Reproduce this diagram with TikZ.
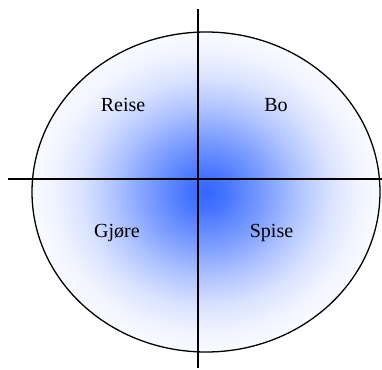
\documentclass[tikz,border=0pt]{standalone}
\usepackage{fontspec}
\setmainfont{Liberation Serif}
\definecolor{blobblue}{RGB}{51,102,255}
\pgfdeclareradialshading{blobshade}{\pgfpoint{0bp}{0bp}}{%
  color(0bp)=(blobblue);
  color(3bp)=(blobblue!90!white);
  color(8bp)=(blobblue!66!white);
  color(13bp)=(blobblue!40!white);
  color(18bp)=(blobblue!18!white);
  color(22bp)=(blobblue!7!white);
  color(25bp)=(blobblue!3!white);
  color(50bp)=(blobblue!3!white)}
\begin{document}
\begin{tikzpicture}[
    x=1pt, y=-1pt,
    axis/.style={draw, line width=1.6pt},
    rim/.style={draw, line width=1.3pt},
    label/.style={anchor=base, font=\fontsize{20}{24}\selectfont}
]
  \useasboundingbox (0,0) rectangle (382,369);

  % Shaded ellipse
  \shade[shading=blobshade] (206,192) ellipse [x radius=174, y radius=160];
  \path[rim] (206,192) ellipse [x radius=174, y radius=160];

  % Axes
  \coordinate (top) at (198,9);
  \coordinate (bottom) at (198,368);
  \coordinate (left) at (8,179);
  \coordinate (right) at (382,179);
  \draw[axis] (top) -- (bottom);
  \draw[axis] (left) -- (right);

  % Quadrants
  \node[label] (reise) at (123,111) {Reise};
  \node[label] (bo) at (276,111) {Bo};
  \node[label] (gjore) at (117,237) {Gjøre};
  \node[label] (spise) at (271.5,237) {Spise};
\end{tikzpicture}
\end{document}
